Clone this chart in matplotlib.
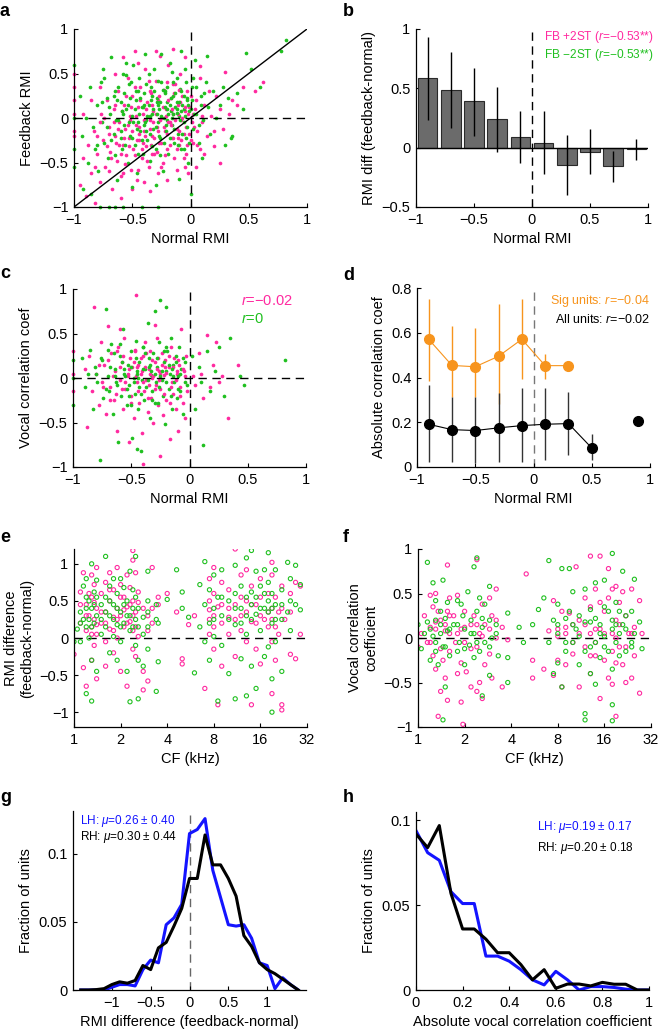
import numpy as np
import matplotlib
matplotlib.use("Agg")
import matplotlib.pyplot as plt
from matplotlib.ticker import FuncFormatter, NullFormatter

plt.rcParams['font.family'] = ['Liberation Sans', 'DejaVu Sans']
plt.rcParams['font.size'] = 10
plt.rcParams['mathtext.fontset'] = 'custom'
plt.rcParams['mathtext.rm'] = 'Liberation Sans'
plt.rcParams['mathtext.it'] = 'Liberation Sans:italic'

PINK = '#ff2aa0'
GREEN = '#20c020'
BLUE = '#1414ff'
ORANGE = '#f7941d'

# ---- panel a: normal vs feedback RMI (x, y)
a_pink = [(-0.92,-0.45),(-0.88,-0.30),(-0.85,-0.62),(-0.83,-0.15),(-0.80,-0.40),(-0.78,-0.72),(-0.77,0.05),(-0.75,-0.25),(-0.73,-0.55),(-0.72,0.20),(-0.70,-0.10),(-0.69,-0.38),(-0.67,-0.80),(-0.66,0.10),(-0.65,-0.20),(-0.63,-0.48),(-0.62,0.30),(-0.61,-0.05),(-0.60,-0.65),(-0.58,-0.30),(-0.57,0.15),(-0.56,-0.12),(-0.55,-0.42),(-0.54,0.45),(-0.53,-0.22),(-0.52,0.02),(-0.51,-0.58),(-0.50,0.25),(-0.49,-0.35),(-0.48,0.75),(-0.47,-0.08),(-0.46,-0.70),(-0.45,0.12),(-0.44,-0.25),(-0.43,0.35),(-0.42,-0.45),(-0.41,0.05),(-0.40,-0.15),(-0.39,0.55),(-0.38,-0.32),(-0.37,0.18),(-0.36,-0.55),(-0.35,-0.02),(-0.34,0.28),(-0.33,-0.20),(-0.32,0.08),(-0.31,-0.40),(-0.30,0.42),(-0.29,-0.10),(-0.28,0.20),(-0.27,-0.28),(-0.26,0.70),(-0.25,0.00),(-0.24,-0.50),(-0.23,0.32),(-0.22,-0.15),(-0.21,0.10),(-0.20,-0.35),(-0.19,0.60),(-0.18,-0.05),(-0.17,0.22),(-0.16,-0.22),(-0.15,0.05),(-0.14,-0.45),(-0.13,0.38),(-0.12,-0.12),(-0.11,0.15),(-0.10,-0.30),(-0.09,0.50),(-0.08,-0.02),(-0.07,0.25),(-0.06,-0.18),(-0.05,0.08),(-0.04,-0.40),(-0.03,0.30),(-0.02,-0.62),(-0.01,0.12),(0.00,-0.25),(0.02,0.05),(0.03,-0.10),(0.05,0.20),(0.06,-0.30),(0.08,0.45),(0.10,-0.05),(0.12,0.15),(0.14,-0.20),(0.16,0.30),(0.18,0.02),(0.20,-0.15),(0.22,0.25),(0.25,0.10),(0.28,-0.12),(0.30,0.52),(0.33,0.05),(0.36,0.20),(0.40,0.15),(0.45,0.35),(0.55,0.30),(0.62,0.40),(-1.0,0.50),(-1.0,0.35),(-1.0,0.20),(-1.0,0.05),(-1.0,-0.15),(-1.0,-0.20),(-0.95,-0.75),(-0.90,-0.88),(-0.82,-0.95),(-0.60,-0.90),(-0.35,-0.82),(-0.20,-0.70),(0.05,-0.55),(0.25,-0.50),(-0.65,0.50),(-0.45,0.62),(-0.15,0.78),(-0.05,0.68),(0.08,0.58),(-0.58,0.68),(-0.30,0.75),(-0.85,0.20),(-0.92,0.05),(-0.78,0.35),(-0.40,-0.72),(-0.12,-0.58),(0.12,-0.40),(0.20,-0.32),(-0.70,-0.60),(-0.50,-0.80)]
a_pink_core = [(-0.72,-0.32),(-0.70,-0.18),(-0.68,-0.45),(-0.66,-0.05),(-0.64,-0.28),(-0.62,-0.12),(-0.60,-0.40),(-0.59,0.08),(-0.57,-0.22),(-0.56,-0.52),(-0.54,-0.08),(-0.53,-0.32),(-0.51,0.12),(-0.50,-0.15),(-0.48,-0.42),(-0.47,0.02),(-0.46,-0.25),(-0.44,-0.10),(-0.43,0.20),(-0.42,-0.35),(-0.40,-0.02),(-0.39,-0.20),(-0.38,0.10),(-0.37,-0.48),(-0.35,-0.12),(-0.34,-0.30),(-0.33,0.15),(-0.32,-0.05),(-0.31,-0.22),(-0.30,0.05),(-0.29,-0.38),(-0.28,-0.15),(-0.27,0.25),(-0.26,-0.02),(-0.25,-0.28),(-0.24,0.12),(-0.23,-0.10),(-0.22,-0.42),(-0.21,0.02),(-0.20,-0.18),(-0.19,0.20),(-0.18,-0.30),(-0.17,-0.08),(-0.16,0.10),(-0.15,-0.22),(-0.14,0.28),(-0.13,-0.02),(-0.12,-0.35),(-0.11,0.05),(-0.10,-0.15),(-0.09,0.18),(-0.08,-0.25),(-0.07,0.00),(-0.06,-0.45),(-0.05,0.12),(-0.04,-0.10),(-0.03,-0.30),(-0.02,0.05),(-0.01,-0.18),(0.01,-0.05),(0.02,-0.28),(0.04,0.10),(0.06,-0.15),(0.08,-0.35),(0.10,0.02),(-0.65,0.15),(-0.55,0.25),(-0.45,-0.58),(-0.35,0.30),(-0.25,-0.55),(-0.15,0.38),(-0.05,-0.55),(-0.80,-0.20),(-0.78,-0.05),(-0.82,-0.55),(-0.74,0.00),(-0.58,-0.62),(-0.48,0.35),(-0.36,0.42),(-0.20,0.40),(-0.10,0.32),(0.00,0.25),(-0.28,-0.62),(-0.41,-0.28),(-0.33,-0.40),(-0.19,-0.05),(-0.11,-0.22),(-0.44,-0.18),(-0.52,-0.02),(-0.61,-0.30)]
a_green = [(-0.95,0.25),(-0.93,-0.20),(-0.90,0.00),(-0.88,-0.50),(-0.86,0.35),(-0.84,-0.10),(-0.82,-0.35),(-0.80,0.15),(-0.79,-0.60),(-0.77,0.40),(-0.76,-0.05),(-0.74,-0.28),(-0.72,0.22),(-0.71,-0.45),(-0.69,0.05),(-0.68,0.68),(-0.66,-0.18),(-0.65,0.30),(-0.63,-0.70),(-0.62,-0.02),(-0.60,0.18),(-0.59,-0.35),(-0.58,0.50),(-0.57,-0.08),(-0.55,0.10),(-0.54,-0.50),(-0.53,0.38),(-0.52,-0.20),(-0.50,0.02),(-0.49,0.60),(-0.48,-0.30),(-0.47,0.20),(-0.46,-0.62),(-0.45,-0.05),(-0.44,0.45),(-0.43,-0.15),(-0.42,0.12),(-0.41,-0.40),(-0.40,0.28),(-0.39,0.72),(-0.38,-0.02),(-0.37,-0.25),(-0.36,0.15),(-0.35,-0.48),(-0.34,0.35),(-0.33,0.05),(-0.32,-0.12),(-0.31,0.55),(-0.30,-0.35),(-0.29,0.22),(-0.28,-0.05),(-0.27,0.10),(-0.26,-0.22),(-0.25,0.40),(-0.24,-0.60),(-0.23,0.00),(-0.22,0.30),(-0.21,-0.15),(-0.20,0.18),(-0.19,-0.40),(-0.18,0.62),(-0.17,0.08),(-0.16,-0.08),(-0.15,0.25),(-0.14,-0.28),(-0.13,0.12),(-0.12,0.45),(-0.11,-0.18),(-0.10,0.02),(-0.09,0.33),(-0.08,-0.35),(-0.07,0.15),(-0.06,-0.05),(-0.05,0.55),(-0.04,-0.22),(-0.03,0.20),(-0.02,-0.50),(-0.01,0.08),(0.01,0.35),(0.02,-0.12),(0.04,0.65),(0.05,0.05),(0.07,-0.28),(0.09,0.25),(0.11,-0.02),(0.13,0.40),(0.15,0.12),(0.17,-0.18),(0.19,0.30),(0.22,0.00),(0.25,0.15),(0.28,0.35),(0.32,0.22),(0.36,-0.20),(0.40,0.28),(0.45,0.10),(0.48,0.73),(0.52,0.55),(0.60,0.35),(0.78,0.75),(0.82,0.88),(-1.0,0.00),(-1.0,-0.35),(-1.0,-0.55),(-1.0,0.60),(-0.78,-1.0),(-0.70,-1.0),(-0.65,-1.0),(-0.58,-1.0),(-0.42,-1.0),(-0.28,-1.0),(-0.92,-0.80),(-0.85,-0.85),(-0.50,-0.78),(-0.30,-0.75),(-0.10,-0.68),(0.00,-0.85),(0.10,-0.45),(0.30,-0.30),(0.35,-0.22),(-0.75,0.55),(-0.55,0.62),(-0.25,0.72),(-0.08,0.75),(0.14,0.70),(-0.45,0.30),(-0.35,0.02),(-0.28,0.15),(-0.20,-0.02),(-0.15,0.05),(-0.12,0.18),(-0.06,0.10),(-0.40,-0.08),(-0.60,-0.22),(-0.20,0.10)]
a_green_core = [(-0.72,-0.10),(-0.70,0.12),(-0.68,-0.25),(-0.66,0.25),(-0.64,-0.02),(-0.62,0.35),(-0.60,-0.15),(-0.59,0.08),(-0.57,0.28),(-0.56,-0.30),(-0.54,0.15),(-0.53,-0.05),(-0.51,0.40),(-0.50,-0.22),(-0.48,0.10),(-0.47,0.30),(-0.46,-0.12),(-0.44,0.05),(-0.43,0.22),(-0.42,-0.25),(-0.40,0.15),(-0.39,-0.05),(-0.38,0.38),(-0.37,0.02),(-0.35,-0.18),(-0.34,0.20),(-0.33,-0.32),(-0.32,0.10),(-0.31,0.30),(-0.30,-0.10),(-0.29,0.05),(-0.28,0.42),(-0.27,-0.20),(-0.26,0.18),(-0.25,0.02),(-0.24,0.32),(-0.23,-0.28),(-0.22,0.12),(-0.21,-0.08),(-0.20,0.35),(-0.19,0.05),(-0.18,-0.22),(-0.17,0.22),(-0.16,0.00),(-0.15,0.40),(-0.14,-0.12),(-0.13,0.28),(-0.12,0.06),(-0.11,-0.30),(-0.10,0.18),(-0.09,-0.02),(-0.08,0.30),(-0.07,-0.18),(-0.06,0.25),(-0.05,0.02),(-0.04,0.40),(-0.03,-0.10),(-0.02,0.15),(-0.01,-0.28),(0.01,0.20),(0.03,0.05),(0.05,0.35),(0.07,-0.08),(0.09,0.15),(0.12,0.28),(-0.76,0.18),(-0.80,-0.30),(-0.74,0.45),(-0.65,-0.42),(-0.55,0.48),(-0.45,-0.40),(-0.36,0.50),(-0.26,-0.42),(-0.16,0.52),(-0.06,-0.35),(0.02,0.45),(-0.58,0.05),(-0.41,0.12),(-0.33,0.25),(-0.22,0.28),(-0.12,0.10),(-0.03,0.22),(-0.49,-0.05),(-0.38,-0.15),(-0.29,0.18),(-0.18,0.15),(-0.08,0.08),(0.00,0.10),(-0.63,0.20),(-0.52,0.22)]

# ---- panel b: binned RMI difference
b_centers = [-0.9, -0.7, -0.5, -0.3, -0.1, 0.1, 0.3, 0.5, 0.7, 0.9]
b_means = [0.585, 0.489, 0.39, 0.243, 0.09, 0.04, -0.147, -0.034, -0.158, -0.01]
b_low = [0.234, 0.164, 0.10, -0.04, -0.13, -0.226, -0.40, -0.218, -0.288, -0.10]
b_high = [0.935, 0.81, 0.67, 0.51, 0.305, 0.305, 0.107, 0.161, -0.025, 0.073]

# ---- panel c: normal RMI vs vocal correlation
c_pink = [(-0.90,0.10),(-0.88,-0.55),(-0.86,0.25),(-0.84,-0.15),(-0.82,0.80),(-0.80,0.05),(-0.78,-0.30),(-0.76,0.40),(-0.75,-0.05),(-0.73,0.15),(-0.72,-0.40),(-0.70,0.58),(-0.68,-0.10),(-0.67,0.28),(-0.65,-0.25),(-0.64,0.08),(-0.62,-0.60),(-0.61,0.35),(-0.60,-0.02),(-0.58,0.18),(-0.57,-0.35),(-0.56,0.45),(-0.55,-0.12),(-0.53,0.02),(-0.52,-0.72),(-0.51,0.22),(-0.50,-0.20),(-0.49,0.12),(-0.48,-0.45),(-0.47,0.32),(-0.46,0.93),(-0.45,-0.05),(-0.44,0.15),(-0.43,-0.28),(-0.42,0.05),(-0.41,-0.62),(-0.40,0.25),(-0.39,-0.15),(-0.38,0.40),(-0.37,-0.02),(-0.36,-0.38),(-0.35,0.10),(-0.34,0.30),(-0.33,-0.22),(-0.32,0.00),(-0.31,-0.50),(-0.30,0.18),(-0.29,-0.08),(-0.28,0.45),(-0.27,-0.30),(-0.26,0.08),(-0.25,-0.12),(-0.24,0.28),(-0.23,-0.42),(-0.22,0.03),(-0.21,0.20),(-0.20,-0.25),(-0.18,0.12),(-0.17,-0.68),(-0.16,0.35),(-0.15,-0.05),(-0.14,-0.18),(-0.13,0.22),(-0.12,-0.35),(-0.11,0.05),(-0.10,-0.60),(-0.09,0.15),(-0.08,-0.10),(-0.07,0.55),(-0.06,-0.28),(-0.05,0.08),(-0.04,-0.45),(-0.03,0.25),(-0.02,-0.15),(0.03,0.02),(0.05,-0.08),(0.08,0.28),(0.10,0.05),(0.12,-0.22),(0.15,0.48),(0.18,-0.10),(0.20,0.15),(0.23,0.40),(0.25,-0.05),(0.28,0.02),(0.33,-0.45),(0.42,0.15),(-0.40,-0.97),(-0.25,-0.88),(-1.0,0.30),(-1.0,-0.15),(-1.0,0.05),(-0.30,0.60),(-0.60,0.55)]
c_pink_core = [(-0.78,0.15),(-0.74,-0.10),(-0.70,0.20),(-0.66,0.02),(-0.63,-0.18),(-0.60,0.12),(-0.57,0.25),(-0.55,-0.05),(-0.52,0.10),(-0.50,-0.28),(-0.48,0.18),(-0.46,0.02),(-0.44,-0.15),(-0.42,0.22),(-0.40,-0.05),(-0.38,0.12),(-0.36,-0.22),(-0.34,0.05),(-0.32,0.20),(-0.30,-0.12),(-0.28,0.10),(-0.26,-0.02),(-0.24,0.15),(-0.22,-0.18),(-0.20,0.06),(-0.18,0.25),(-0.16,-0.10),(-0.14,0.12),(-0.12,-0.02),(-0.10,0.20),(-0.08,-0.20),(-0.06,0.10),(-0.04,0.02),(-0.68,-0.25),(-0.58,-0.12),(-0.47,0.30),(-0.37,0.28),(-0.27,0.22),(-0.17,-0.28),(-0.45,0.12),(-0.35,-0.08),(-0.25,0.05),(-0.62,0.30),(-0.53,0.05),(-0.41,0.08),(-0.31,0.02),(-0.21,0.12),(-0.11,0.08)]
c_green = [(-0.92,0.22),(-0.90,-0.10),(-0.87,0.05),(-0.85,0.32),(-0.83,-0.35),(-0.81,0.12),(-0.79,-0.05),(-0.77,-0.92),(-0.75,0.20),(-0.74,-0.22),(-0.72,0.78),(-0.70,0.02),(-0.69,-0.15),(-0.67,0.38),(-0.66,-0.40),(-0.64,0.10),(-0.63,-0.05),(-0.61,-0.72),(-0.60,0.25),(-0.59,-0.20),(-0.57,0.55),(-0.56,0.05),(-0.54,-0.30),(-0.53,0.15),(-0.52,-0.08),(-0.50,0.30),(-0.49,-0.67),(-0.48,0.00),(-0.47,-0.18),(-0.46,0.42),(-0.45,0.08),(-0.44,-0.35),(-0.43,0.18),(-0.42,-0.82),(-0.41,-0.02),(-0.40,0.35),(-0.39,-0.25),(-0.38,0.10),(-0.37,-0.10),(-0.36,0.62),(-0.35,0.22),(-0.34,-0.45),(-0.33,0.03),(-0.32,-0.15),(-0.31,0.28),(-0.30,0.75),(-0.29,-0.05),(-0.28,0.12),(-0.27,-0.28),(-0.26,0.40),(-0.25,0.88),(-0.24,-0.02),(-0.23,-0.20),(-0.22,0.18),(-0.21,-0.52),(-0.20,0.08),(-0.19,0.30),(-0.18,-0.12),(-0.17,0.05),(-0.16,0.45),(-0.15,-0.35),(-0.14,0.15),(-0.13,-0.05),(-0.12,0.25),(-0.11,-0.22),(-0.10,0.02),(-0.09,0.35),(-0.08,-0.15),(-0.07,0.10),(-0.06,-0.40),(-0.04,0.18),(-0.02,-0.08),(0.02,0.25),(0.05,-0.35),(0.08,0.12),(0.10,-0.05),(0.12,-0.75),(0.15,0.30),(0.18,-0.15),(0.22,0.08),(0.25,0.35),(0.30,-0.20),(0.35,0.45),(0.43,0.02),(0.47,-0.08),(0.82,0.20),(-1.0,0.00),(-1.0,0.20),(-1.0,-0.30),(-0.45,-0.80),(-0.20,0.80)]
c_green_core = [(-0.80,0.05),(-0.76,0.22),(-0.72,-0.12),(-0.68,0.12),(-0.65,0.28),(-0.62,-0.08),(-0.58,0.18),(-0.55,0.02),(-0.52,-0.20),(-0.50,0.12),(-0.48,-0.05),(-0.46,0.22),(-0.44,0.00),(-0.42,-0.18),(-0.40,0.10),(-0.38,0.28),(-0.36,-0.02),(-0.34,0.15),(-0.32,-0.25),(-0.30,0.05),(-0.28,0.22),(-0.26,-0.10),(-0.24,0.08),(-0.22,0.30),(-0.20,-0.05),(-0.18,0.15),(-0.16,-0.20),(-0.14,0.02),(-0.12,0.18),(-0.10,-0.12),(-0.08,0.05),(-0.06,0.22),(-0.04,-0.05),(-0.70,0.32),(-0.60,0.38),(-0.50,-0.30),(-0.40,0.35),(-0.30,-0.28),(-0.20,0.35),(-0.56,0.10),(-0.45,0.05),(-0.35,0.12),(-0.25,0.02),(-0.15,0.10),(-0.64,0.02),(-0.54,-0.12),(-0.43,-0.10),(-0.33,0.08)]

# ---- panel d: absolute correlation per RMI bin
d_sig_x = [-0.9, -0.7, -0.5, -0.3, -0.1, 0.1, 0.3]
d_sig_y = [0.571, 0.454, 0.448, 0.495, 0.571, 0.453, 0.453]
d_sig_lo = [0.386, 0.314, 0.311, 0.28, 0.392, 0.392, 0.453]
d_sig_hi = [0.752, 0.631, 0.622, 0.73, 0.752, 0.504, 0.453]
d_all_x = [-0.9, -0.7, -0.5, -0.3, -0.1, 0.1, 0.3, 0.5, 0.7, 0.9]
d_all_y = [0.191, 0.167, 0.163, 0.175, 0.185, 0.191, 0.194, 0.085, np.nan, 0.205]
d_all_lo = [0.022, 0.022, 0.018, 0.022, 0.022, 0.033, 0.055, 0.03, np.nan, 0.205]
d_all_hi = [0.366, 0.314, 0.311, 0.332, 0.354, 0.354, 0.336, 0.146, np.nan, 0.205]

# ---- panel e: CF (kHz) vs RMI difference
e_pink = [(1.0,-0.22),(1.1,0.62),(1.1,0.20),(1.15,0.88),(1.15,-0.40),(1.2,0.45),(1.2,0.10),(1.2,-0.65),(1.25,0.30),(1.3,0.85),(1.3,0.55),(1.3,0.15),(1.3,-0.30),(1.35,0.72),(1.35,0.25),(1.35,-0.10),(1.4,0.95),(1.4,0.40),(1.4,0.05),(1.4,-0.55),(1.5,0.60),(1.5,0.20),(1.6,0.75),(1.6,0.35),(1.6,-0.05),(1.6,-0.38),(1.7,0.88),(1.7,0.50),(1.7,0.12),(1.8,0.65),(1.8,0.28),(1.8,-0.20),(1.9,0.95),(1.9,0.40),(1.9,0.00),(2.0,0.72),(2.0,0.30),(2.0,-0.45),(2.1,0.55),(2.1,0.15),(2.2,0.85),(2.2,0.42),(2.2,-0.65),(2.3,0.68),(2.3,0.22),(2.4,1.18),(2.4,1.05),(2.4,0.50),(2.4,0.10),(2.4,-0.15),(2.5,0.88),(2.5,0.35),(2.5,-0.25),(2.6,0.62),(2.6,0.02),(2.8,0.40),(2.8,-0.45),(2.8,-0.70),(3.0,0.30),(3.0,-0.58),(3.2,0.95),(3.2,0.20),(3.5,0.45),(3.5,0.55),(4.0,0.60),(4.6,0.35),(5.0,-0.35),(5.0,-0.28),(5.5,0.18),(6.0,0.30),(7.0,-0.68),(7.5,0.80),(7.5,0.50),(7.5,0.25),(7.5,0.05),(8.0,0.95),(8.0,0.60),(8.0,0.30),(8.0,-0.15),(8.5,0.42),(8.5,-0.90),(9.0,0.75),(9.0,0.20),(9.0,-0.38),(10.0,0.65),(10.0,0.28),(10.0,0.05),(11.0,1.20),(11.0,0.45),(11.0,-0.25),(12.0,0.85),(12.0,0.55),(12.0,0.10),(13.0,0.92),(13.0,0.35),(13.0,-0.05),(14.0,0.70),(14.0,0.22),(14.0,-0.90),(15.0,0.45),(15.0,-0.15),(16.0,0.80),(16.0,0.30),(16.0,-0.35),(18.0,0.60),(18.0,0.15),(19.0,1.02),(19.0,0.85),(19.0,0.40),(19.0,-0.05),(19.0,-0.75),(20.0,0.55),(20.0,-0.30),(21.0,0.35),(21.0,0.05),(22.0,0.70),(22.0,-0.90),(22.0,-0.97),(23.0,0.25),(25.0,0.60),(25.0,-0.22),(27.0,0.75),(27.0,-0.28),(29.0,0.70),(29.0,0.05),
          (1.1,0.45),(1.2,0.30),(1.25,0.60),(1.3,0.05),(1.35,0.48),(1.4,0.18),(1.5,0.35),(1.6,0.20),(1.7,0.65),(1.8,0.10),(1.9,0.25),(2.0,0.55),(2.1,0.38),(2.2,0.20),(2.3,0.45),(2.4,0.30),(2.5,0.15),(2.6,0.48),(3.0,0.10),(3.2,0.40),(7.5,0.38),(8.0,0.15),(9.0,0.45),(10.0,0.40),(11.0,0.25),(12.0,0.30),(13.0,0.50),(14.0,0.45),(15.0,0.20),(16.0,0.55),(17.0,0.25),(18.0,0.35),(19.0,0.25),(20.0,0.15),(22.0,0.40),(25.0,0.35)]
e_green = [(1.0,-0.05),(1.05,0.12),(1.1,0.35),(1.1,-0.05),(1.15,0.70),(1.15,0.25),(1.2,0.80),(1.2,0.55),(1.2,0.15),(1.2,-0.75),(1.25,0.50),(1.25,0.00),(1.3,1.00),(1.3,0.40),(1.3,-0.30),(1.3,-0.85),(1.35,0.62),(1.35,0.20),(1.4,0.78),(1.4,0.30),(1.4,-0.45),(1.5,0.45),(1.5,0.05),(1.6,1.10),(1.6,0.55),(1.6,0.15),(1.7,0.70),(1.7,0.30),(1.7,-0.20),(1.8,0.80),(1.8,0.45),(1.8,0.02),(1.9,0.60),(1.9,0.18),(1.9,-0.30),(2.0,0.80),(2.0,0.35),(2.0,-0.05),(2.1,0.68),(2.1,0.20),(2.2,0.50),(2.2,-0.45),(2.3,0.90),(2.3,0.30),(2.3,-0.86),(2.4,0.65),(2.4,0.15),(2.5,1.10),(2.5,0.55),(2.5,-0.10),(2.6,0.40),(2.6,-0.30),(2.6,-0.82),(2.8,0.28),(2.8,0.05),(2.8,-0.38),(3.0,0.90),(3.0,0.50),(3.0,0.15),(3.0,-0.15),(3.4,0.45),(3.4,-0.72),(3.5,0.20),(3.5,-0.32),(4.0,0.52),(4.6,0.92),(5.0,0.62),(5.0,0.40),(5.5,0.28),(6.0,-0.47),(6.5,0.72),(6.5,0.15),(7.0,1.03),(7.0,0.45),(7.0,-0.05),(7.5,0.65),(7.5,-0.30),(8.0,0.85),(8.0,0.40),(8.0,0.02),(8.5,0.55),(8.5,-0.85),(9.0,0.92),(9.0,0.30),(9.0,-0.10),(10.0,0.50),(10.0,-0.48),(11.0,0.98),(11.0,0.60),(11.0,0.18),(11.0,-0.82),(12.0,0.70),(12.0,0.40),(12.0,-0.28),(13.0,1.08),(13.0,0.55),(13.0,0.05),(13.0,-0.78),(14.0,1.18),(14.0,0.62),(14.0,0.25),(14.0,-0.38),(15.0,0.90),(15.0,0.32),(15.0,-0.68),(16.0,0.70),(16.0,0.10),(17.0,0.92),(17.0,0.40),(17.0,-0.25),(18.0,1.15),(18.0,0.75),(18.0,0.35),(18.0,-0.12),(19.0,0.60),(19.0,0.20),(19.0,-0.55),(19.0,-1.00),(20.0,0.92),(20.0,0.45),(20.0,-0.05),(22.0,0.65),(22.0,0.25),(22.0,-0.45),(24.0,1.02),(24.0,0.35),(25.0,0.80),(25.0,0.10),(27.0,0.98),(27.0,0.45),(29.0,0.72),(29.0,0.38),
           (1.1,0.20),(1.2,0.40),(1.25,0.25),(1.3,0.15),(1.35,0.45),(1.4,0.55),(1.5,0.25),(1.6,0.35),(1.7,0.50),(1.8,0.25),(1.9,0.40),(2.0,0.15),(2.1,0.45),(2.2,0.30),(2.3,0.10),(2.4,0.40),(2.5,0.25),(2.6,0.15),(3.0,0.35),(3.4,0.25),(7.5,0.20),(8.0,0.25),(9.0,0.55),(10.0,0.25),(11.0,0.40),(12.0,0.20),(13.0,0.30),(14.0,0.45),(15.0,0.55),(16.0,0.40),(17.0,0.60),(18.0,0.50),(19.0,0.40),(20.0,0.25),(22.0,0.45),(25.0,0.50)]

# ---- panel f: CF (kHz) vs vocal correlation
f_pink = [(1.0,-0.10),(1.05,0.05),(1.1,0.25),(1.15,-0.05),(1.2,0.48),(1.2,0.12),(1.25,0.35),(1.25,-0.20),(1.3,0.50),(1.3,0.10),(1.3,-0.35),(1.35,0.30),(1.35,-0.88),(1.4,0.20),(1.4,-0.60),(1.45,-0.25),(1.5,0.08),(1.5,-0.45),(1.55,0.82),(1.55,0.30),(1.55,-0.70),(1.6,0.45),(1.6,0.05),(1.6,-0.15),(1.7,0.25),(1.75,-0.05),(1.8,0.48),(1.8,-0.40),(1.9,0.10),(1.9,-0.28),(1.9,-0.72),(1.95,-0.97),(2.0,0.30),(2.0,-0.05),(2.05,-0.38),(2.2,0.15),(2.2,-0.55),(2.3,0.25),(2.4,0.88),(2.4,-0.10),(2.4,-0.60),(2.5,0.05),(2.5,-0.50),(2.6,0.38),(2.6,-0.68),(2.7,0.15),(2.7,-0.30),(2.9,0.45),(2.9,-0.18),(3.0,0.25),(3.0,-0.45),(3.2,0.55),(3.2,0.00),(3.5,0.12),(3.5,-0.55),(3.8,-0.02),(5.0,0.72),(5.5,-0.25),(5.5,-0.45),(6.5,-0.35),(7.0,0.08),(7.5,0.42),(7.5,-0.42),(8.0,0.10),(8.0,-0.25),(8.5,0.30),(8.5,-0.55),(9.0,0.05),(9.0,-0.30),(9.5,0.28),(10.0,0.15),(10.0,-0.18),(10.5,0.80),(11.0,0.05),(11.0,-0.55),(12.0,0.45),(12.0,-0.10),(13.0,0.92),(13.0,0.35),(13.0,-0.20),(13.0,-0.40),(14.0,0.55),(14.0,0.10),(14.0,-0.05),(15.0,0.92),(15.0,0.40),(15.0,-0.68),(16.0,0.30),(16.0,-0.25),(17.0,0.78),(17.0,0.45),(17.0,-0.45),(18.0,0.55),(18.0,0.05),(18.0,-0.52),(19.0,0.58),(19.0,0.20),(19.0,-0.28),(19.0,-0.88),(20.0,0.40),(20.0,-0.10),(21.0,0.52),(21.0,-0.30),(22.0,0.25),(22.0,-0.50),(23.0,0.05),(24.0,0.55),(24.0,-0.45),(25.0,0.12),(25.0,-0.20),(27.0,0.42),(27.0,-0.62),(28.0,0.05),
          (1.2,-0.05),(1.3,0.18),(1.4,-0.12),(1.5,0.15),(1.6,0.25),(1.8,0.05),(2.0,0.12),(2.2,-0.12),(2.4,0.15),(2.6,0.02),(2.9,0.10),(3.2,0.20),(8.0,0.02),(9.0,0.12),(10.0,-0.05),(11.0,0.20),(12.0,0.15),(13.0,0.05),(14.0,-0.20),(15.0,0.10),(16.0,0.05),(18.0,-0.15),(19.0,0.00),(20.0,0.15),(22.0,-0.10),(24.0,0.05)]
f_green = [(1.0,0.15),(1.05,-0.12),(1.1,0.05),(1.15,0.85),(1.15,0.18),(1.2,-0.25),(1.25,0.62),(1.25,0.02),(1.3,0.42),(1.3,0.20),(1.3,-0.15),(1.35,-0.30),(1.4,0.30),(1.4,0.05),(1.45,0.65),(1.45,-0.10),(1.45,-0.92),(1.5,0.22),(1.5,-0.55),(1.55,0.40),(1.55,0.08),(1.6,-0.20),(1.7,0.15),(1.8,0.42),(1.8,-0.15),(1.85,-0.05),(1.9,0.38),(1.95,0.25),(2.0,0.10),(2.0,-0.30),(2.1,0.52),(2.15,-0.08),(2.2,0.20),(2.3,0.80),(2.3,0.05),(2.3,-0.22),(2.4,0.90),(2.4,0.30),(2.5,0.45),(2.5,-0.15),(2.6,0.12),(2.6,-0.65),(2.7,0.38),(2.7,-0.05),(2.9,0.58),(2.9,0.20),(2.9,-0.42),(3.0,0.00),(3.2,0.15),(3.3,-0.20),(3.8,0.28),(3.8,-0.22),(3.8,-0.50),(4.5,0.12),(4.8,-0.05),(5.5,0.15),(6.0,0.32),(6.5,0.45),(7.0,0.87),(7.0,-0.05),(7.5,0.20),(7.5,-0.40),(8.0,0.38),(8.0,0.05),(8.0,-0.28),(8.5,0.78),(8.5,-0.55),(9.0,0.22),(9.0,-0.15),(9.5,0.78),(9.5,0.30),(10.0,0.52),(10.0,-0.05),(10.5,0.10),(11.0,0.25),(11.0,-0.30),(12.0,0.55),(12.0,0.18),(12.0,-0.85),(12.0,-0.92),(13.0,0.32),(13.0,-0.10),(13.0,-0.40),(14.0,0.62),(14.0,0.22),(14.0,-0.52),(15.0,0.15),(15.0,-0.22),(16.0,0.65),(16.0,0.35),(16.0,0.02),(17.0,0.30),(17.0,-0.15),(18.0,0.95),(18.0,0.10),(18.0,-0.35),(18.0,-0.75),(18.0,-0.93),(19.0,0.40),(19.0,-0.05),(20.0,0.30),(20.0,-0.20),(21.0,0.75),(21.0,0.15),(22.0,0.10),(22.0,-0.15),(24.0,0.30),(24.0,-0.10),(25.0,0.66),(25.0,0.05),(27.0,0.18),(28.0,-0.12),
           (1.2,0.10),(1.3,-0.05),(1.4,0.15),(1.5,-0.10),(1.6,0.10),(1.8,0.15),(2.0,-0.12),(2.2,0.05),(2.4,-0.05),(2.6,0.22),(2.9,-0.10),(3.2,0.05),(8.0,0.15),(9.0,-0.05),(10.0,0.15),(11.0,0.02),(12.0,-0.15),(13.0,0.18),(14.0,-0.05),(15.0,0.05),(16.0,-0.10),(18.0,0.20),(19.0,0.15),(20.0,0.05),(22.0,0.25),(24.0,-0.05)]

# ---- panel g: RMI difference histograms
g_x = [-1.4, -1.3, -1.2, -1.1, -1.0, -0.9, -0.8, -0.7, -0.6, -0.5, -0.4, -0.3, -0.2, -0.1, 0.0,
       0.1, 0.2, 0.3, 0.4, 0.5, 0.6, 0.7, 0.8, 0.9, 1.0, 1.1, 1.2, 1.3, 1.4]
g_lh = [0, 0, 0, 0, 0.002, 0.004, 0.004, 0.003, 0.015, 0.022, 0.020, 0.048, 0.053, 0.063, 0.115,
        0.118, 0.126, 0.088, 0.068, 0.048, 0.047, 0.048, 0.038, 0.020, 0.018, 0.001, 0.009, 0.004, 0]
g_rh = [0, 0, 0.0003, 0.001, 0.004, 0.006, 0.005, 0.007, 0.018, 0.015, 0.031, 0.035, 0.047, 0.060, 0.082,
        0.082, 0.114, 0.092, 0.092, 0.082, 0.069, 0.040, 0.032, 0.020, 0.015, 0.012, 0.008, 0.004, 0]

# ---- panel h: absolute vocal correlation histograms
h_x = [0, 0.05, 0.1, 0.15, 0.2, 0.25, 0.3, 0.35, 0.4, 0.45, 0.5, 0.55, 0.6, 0.65, 0.7,
       0.75, 0.8, 0.85, 0.9, 0.95, 1.0]
h_lh = [0.094, 0.081, 0.0765, 0.058, 0.051, 0.051, 0.020, 0.020, 0.017, 0.012, 0.006, 0.003, 0.011,
        0.006, 0.0, 0.002, 0.002, 0.0015, 0.0005, 0, 0]
h_rh = [0.092, 0.084, 0.097, 0.057, 0.036, 0.036, 0.030, 0.022, 0.022, 0.015, 0.006, 0.012, 0.001,
        0.0035, 0.0035, 0.0024, 0.0045, 0.0034, 0.0034, 0, 0]


def fmt(v, pos):
    return ('%g' % v).replace('-', '\u2212')


def style(ax):
    for s in ['top', 'right']:
        ax.spines[s].set_visible(False)
    for s in ['left', 'bottom']:
        ax.spines[s].set_linewidth(0.9)
    ax.tick_params(direction='in', length=3, width=0.8, labelsize=10.5, pad=4)
    ax.tick_params(which='minor', length=0)
    ax.xaxis.set_major_formatter(FuncFormatter(fmt))
    ax.yaxis.set_major_formatter(FuncFormatter(fmt))


def unzip(pts):
    arr = np.array(pts)
    return arr[:, 0], arr[:, 1]


def main():
    fig = plt.figure(figsize=(6.59, 10.32), dpi=100)
    W, H = 659.0, 1032.0

    def axes_px(l, r, t, b):
        return fig.add_axes([l / W, 1 - b / H, (r - l) / W, (b - t) / H])

    dash = (0, (6, 4))
    lab = dict(fontsize=10.5)

    # a
    ax = axes_px(74, 307, 29, 207)
    style(ax)
    for pts, col in [(a_pink, PINK), (a_green, GREEN), (a_pink_core, PINK), (a_green_core, GREEN)]:
        x, y = unzip(pts)
        ax.scatter(x, y, s=7, color=col, linewidths=0, clip_on=False, zorder=2)
    ax.plot([-1, 1], [-1, 1], color='k', lw=1, zorder=3)
    ax.plot([-1, 1], [0, 0], color='k', lw=1, ls=dash, zorder=3)
    ax.plot([0, 0], [-1, 1], color='k', lw=1, ls=dash, zorder=3)
    ax.set_xlim(-1, 1)
    ax.set_ylim(-1, 1)
    ax.set_xticks([-1, -0.5, 0, 0.5, 1])
    ax.set_yticks([-1, -0.5, 0, 0.5, 1])
    ax.set_xlabel('Normal RMI', **lab)
    ax.set_ylabel('Feedback RMI', **lab)

    # b
    ax = axes_px(416, 648, 29, 207)
    style(ax)
    means = np.array(b_means)
    yerr = [means - np.array(b_low), np.array(b_high) - means]
    ax.bar(b_centers, means, width=0.17, color='#6b6b6b', edgecolor='#2a2a2a', linewidth=0.8, zorder=2)
    ax.errorbar(b_centers, means, yerr=yerr, fmt='none', ecolor='k', elinewidth=1, capsize=0, zorder=3)
    ax.axhline(0, color='k', lw=1, zorder=3)
    ax.plot([0, 0], [-0.5, 1], color='k', lw=1, ls=dash, zorder=1)
    ax.set_xlim(-1, 1)
    ax.set_ylim(-0.5, 1)
    ax.set_xticks([-1, -0.5, 0, 0.5, 1])
    ax.set_yticks([-0.5, 0, 0.5, 1])
    ax.set_xlabel('Normal RMI', **lab)
    ax.set_ylabel('RMI diff (feedback-normal)', **lab)
    ax.text(1.025, 1.0, 'FB +2ST ($r$=\u22120.53**)', color=PINK, fontsize=8.6,
            ha='right', va='top', transform=ax.transAxes)
    ax.text(1.025, 0.90, 'FB \u22122ST ($r$=\u22120.53**)', color=GREEN, fontsize=8.6,
            ha='right', va='top', transform=ax.transAxes)

    # c
    ax = axes_px(73, 306, 289, 467)
    style(ax)
    for pts, col in [(c_pink, PINK), (c_green, GREEN), (c_pink_core, PINK), (c_green_core, GREEN)]:
        x, y = unzip(pts)
        ax.scatter(x, y, s=7, color=col, linewidths=0, clip_on=False, zorder=2)
    ax.plot([-1, 1], [0, 0], color='k', lw=1, ls=dash, zorder=3)
    ax.plot([0, 0], [-1, 1], color='k', lw=1, ls=dash, zorder=3)
    ax.set_xlim(-1, 1)
    ax.set_ylim(-1, 1)
    ax.set_xticks([-1, -0.5, 0, 0.5, 1])
    ax.set_yticks([-1, -0.5, 0, 0.5, 1])
    ax.set_xlabel('Normal RMI', **lab)
    ax.set_ylabel('Vocal correlation coef', **lab)
    ax.text(0.72, 0.97, '$r$=\u22120.02', color=PINK, fontsize=10.5, ha='left', va='top',
            transform=ax.transAxes)
    ax.text(0.72, 0.87, '$r$=0', color=GREEN, fontsize=10.5, ha='left', va='top',
            transform=ax.transAxes)

    # d
    ax = axes_px(417, 650, 288, 467)
    style(ax)
    ax.plot([0, 0], [0, 0.8], color='#777777', lw=1, ls=dash, zorder=1)
    sy = np.array(d_sig_y)
    ax.errorbar(d_sig_x, sy, yerr=[sy - np.array(d_sig_lo), np.array(d_sig_hi) - sy],
                fmt='none', ecolor=ORANGE, elinewidth=1, capsize=0, zorder=2)
    ay = np.array(d_all_y)
    ax.errorbar(d_all_x, ay, yerr=[ay - np.array(d_all_lo), np.array(d_all_hi) - ay],
                fmt='none', ecolor='#333333', elinewidth=1, capsize=0, zorder=2)
    ax.plot(d_sig_x, d_sig_y, '-o', color=ORANGE, lw=0.8, ms=7, mec=ORANGE, zorder=3)
    ax.plot(d_all_x, d_all_y, '-o', color='k', lw=0.8, ms=7, zorder=3)
    ax.set_xlim(-1, 1)
    ax.set_ylim(0, 0.8)
    ax.set_xticks([-1, -0.5, 0, 0.5, 1])
    ax.set_yticks([0, 0.2, 0.4, 0.6, 0.8])
    ax.set_xlabel('Normal RMI', **lab)
    ax.set_ylabel('Absolute correlation coef', **lab)
    ax.text(1.0, 0.97, 'Sig units: $r$=\u22120.04', color=ORANGE, fontsize=9, ha='right', va='top',
            transform=ax.transAxes)
    ax.text(1.0, 0.86, 'All units: $r$=\u22120.02', color='k', fontsize=9, ha='right', va='top',
            transform=ax.transAxes)

    # e and f
    for (l, r), pink, green, ylim, ylab in [((74, 307), e_pink, e_green, (-1.2, 1.2), 'RMI difference\n(feedback-normal)'),
                                             ((418, 651), f_pink, f_green, (-1, 1), 'Vocal correlation\ncoefficient')]:
        ax = axes_px(l, r, 549, 727)
        ax.set_xscale('log', base=2)
        style(ax)
        ax.xaxis.set_minor_formatter(NullFormatter())
        ax.plot([1, 32], [0, 0], color='k', lw=1, ls=dash, zorder=1)
        for pts, col in [(pink, PINK), (green, GREEN)]:
            x, y = unzip(pts)
            ax.scatter(x, y, s=9, facecolors='none', edgecolors=col, linewidths=0.8, zorder=2)
        ax.set_xlim(1, 32)
        ax.set_ylim(*ylim)
        ax.set_xticks([1, 2, 4, 8, 16, 32])
        ax.set_yticks([-1, -0.5, 0, 0.5, 1])
        ax.set_xlabel('CF (kHz)', **lab)
        ax.set_ylabel(ylab, **lab)

    # g
    ax = axes_px(73, 306, 811, 990)
    style(ax)
    ax.plot([0, 0], [0, 0.13], color='#666666', lw=1, ls=dash, zorder=1)
    ax.plot(g_x, g_lh, color=BLUE, lw=2.2, zorder=2)
    ax.plot(g_x, g_rh, color='k', lw=2.2, zorder=3)
    ax.set_xlim(-1.5, 1.5)
    ax.set_ylim(0, 0.1316)
    ax.set_xticks([-1, -0.5, 0, 0.5, 1])
    ax.set_yticks([0, 0.05, 0.1])
    ax.set_xlabel('RMI difference (feedback-normal)', **lab)
    ax.set_ylabel('Fraction of units', **lab)
    ax.text(0.03, 0.99, 'LH: $\\mu$=0.26 \u00b1 0.40', color=BLUE, fontsize=8.5, ha='left', va='top',
            transform=ax.transAxes)
    ax.text(0.03, 0.90, 'RH: $\\mu$=0.30 \u00b1 0.44', color='k', fontsize=8.5, ha='left', va='top',
            transform=ax.transAxes)

    # h
    ax = axes_px(416, 649, 812, 990)
    style(ax)
    ax.plot(h_x, h_lh, color=BLUE, lw=2.2, zorder=2)
    ax.plot(h_x, h_rh, color='k', lw=2.2, zorder=3)
    ax.set_xlim(0, 1)
    ax.set_ylim(0, 0.105)
    ax.set_xticks([0, 0.2, 0.4, 0.6, 0.8, 1])
    ax.set_yticks([0, 0.05, 0.1])
    ax.set_xlabel('Absolute vocal correlation coefficient', **lab)
    ax.set_ylabel('Fraction of units', **lab)
    ax.text(0.52, 0.96, 'LH: $\\mu$=0.19 \u00b1 0.17', color=BLUE, fontsize=8.5, ha='left', va='top',
            transform=ax.transAxes)
    ax.text(0.52, 0.845, 'RH: $\\mu$=0.20 \u00b1 0.18', color='k', fontsize=8.5, ha='left', va='top',
            transform=ax.transAxes)

    # panel letters
    for ch, x, y in [('a', 0, 12), ('b', 343, 12), ('c', 0, 274), ('d', 343, 275),
                     ('e', 0, 537), ('f', 343, 537), ('g', 0, 798), ('h', 343, 798)]:
        fig.text(x / W, 1 - y / H, ch, fontsize=13, fontweight='bold', va='center', ha='left')

    fig.savefig('out.png', dpi=100)


if __name__ == "__main__":
    main()
